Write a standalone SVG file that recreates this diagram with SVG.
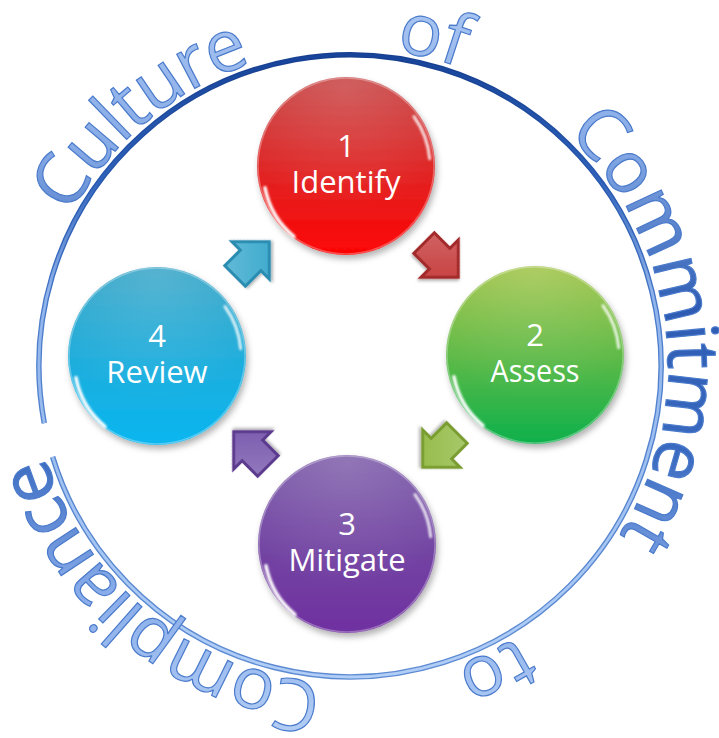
<svg xmlns="http://www.w3.org/2000/svg" xmlns:xlink="http://www.w3.org/1999/xlink" width="719" height="738" viewBox="0 0 719 738">
  <style>
    .lbl { font-family: "Open Sans", "Liberation Sans", sans-serif; font-size: 31px; fill: #ffffff; text-anchor: middle; }
    .ring-txt { font-family: "Open Sans", "Liberation Sans", sans-serif; font-size: 72px; fill: url(#txtGrad); stroke: #4a7acb; stroke-width: 1.2; }
  </style>
  <defs>
    <linearGradient id="txtGrad" gradientUnits="userSpaceOnUse" x1="0" y1="0" x2="0" y2="738">
      <stop offset="0" stop-color="#aac6f2"/>
      <stop offset="0.2" stop-color="#86aae6"/>
      <stop offset="0.42" stop-color="#2d5cb2"/>
      <stop offset="0.62" stop-color="#3b6bc0"/>
      <stop offset="0.8" stop-color="#88acea"/>
      <stop offset="1" stop-color="#b4cff5"/>
    </linearGradient>
    <linearGradient id="ringOuter" gradientUnits="userSpaceOnUse" x1="0" y1="55" x2="0" y2="677">
      <stop offset="0" stop-color="#173f8f"/>
      <stop offset="0.25" stop-color="#2a5cb4"/>
      <stop offset="0.45" stop-color="#4f7fcc"/>
      <stop offset="1" stop-color="#5d8ad2"/>
    </linearGradient>
    <linearGradient id="ringInner" gradientUnits="userSpaceOnUse" x1="0" y1="55" x2="0" y2="677">
      <stop offset="0" stop-color="#17449a"/>
      <stop offset="0.2" stop-color="#2f62ba"/>
      <stop offset="0.38" stop-color="#8fb4ec"/>
      <stop offset="1" stop-color="#b0cef6"/>
    </linearGradient>
    <linearGradient id="gRed" x1="0" y1="0" x2="0" y2="1">
      <stop offset="0" stop-color="#c64242"/>
      <stop offset="0.45" stop-color="#dc2a2a"/>
      <stop offset="1" stop-color="#fd0404"/>
    </linearGradient>
    <linearGradient id="gGreen" x1="0" y1="0" x2="0" y2="1">
      <stop offset="0" stop-color="#a0c344"/>
      <stop offset="0.5" stop-color="#5fba46"/>
      <stop offset="1" stop-color="#0db04c"/>
    </linearGradient>
    <linearGradient id="gPurple" x1="0" y1="0" x2="0" y2="1">
      <stop offset="0" stop-color="#7c5ca9"/>
      <stop offset="0.5" stop-color="#7346a3"/>
      <stop offset="1" stop-color="#7030a0"/>
    </linearGradient>
    <linearGradient id="gBlue" x1="0" y1="0" x2="0" y2="1">
      <stop offset="0" stop-color="#36a4c6"/>
      <stop offset="0.5" stop-color="#20addb"/>
      <stop offset="1" stop-color="#08b6f0"/>
    </linearGradient>
    <radialGradient id="sheen" cx="0.5" cy="0.05" r="0.7">
      <stop offset="0" stop-color="#ffffff" stop-opacity="0.16"/>
      <stop offset="1" stop-color="#ffffff" stop-opacity="0"/>
    </radialGradient>
    <linearGradient id="bevelSheen" x1="0" y1="0" x2="1" y2="1">
      <stop offset="0" stop-color="#ffffff" stop-opacity="0.22"/>
      <stop offset="1" stop-color="#ffffff" stop-opacity="0"/>
    </linearGradient>
    <filter id="sh" x="-20%" y="-20%" width="140%" height="150%">
      <feDropShadow dx="2" dy="4" stdDeviation="3" flood-color="#000" flood-opacity="0.3"/>
    </filter>
    <filter id="ash" x="-30%" y="-30%" width="160%" height="160%">
      <feDropShadow dx="1" dy="2" stdDeviation="1.5" flood-color="#000" flood-opacity="0.3"/>
    </filter>
    <filter id="soft" x="-20%" y="-20%" width="140%" height="140%">
      <feGaussianBlur stdDeviation="0.9"/>
    </filter>
    <g id="gloss">
      <circle r="89" fill="url(#sheen)"/>
      <circle r="88" fill="none" stroke="#ffffff" stroke-opacity="0.3" stroke-width="1.5"/>
      <path d="M -52.1 70.6 A 84 84 0 0 1 -81.1 21.7" fill="none" stroke="#ffffff" stroke-width="3.5" stroke-linecap="round" filter="url(#soft)"/>
      <path d="M 68 -49.4 A 84 84 0 0 1 83.7 -7.3" fill="none" stroke="#ffffff" stroke-width="3" stroke-linecap="round" opacity="0.85" filter="url(#soft)"/>
    </g>
    <path id="arrOut" d="M-24,-16 H-2 V-30 L28,0 L-2,30 V16 H-24 Z"/>
    <path id="arrIn" d="M-21,-13 H1 V-22.8 L23.8,0 L1,22.8 V13 H-21 Z"/>
    <path id="txtCircle" d="M 32 366 A 318 318 0 1 1 668 366 A 318 318 0 1 1 32 366"/>
  </defs>

  <g id="ring">
    <path d="M 44.3 423.2 A 311 311 0 1 1 52.6 456.9" fill="none" stroke="url(#ringOuter)" stroke-width="5.5"/>
    <path d="M 44.3 423.2 A 311 311 0 1 1 52.6 456.9" fill="none" stroke="url(#ringInner)" stroke-width="2.8"/>
  </g>

  <g id="ring-text">
    <text class="ring-txt"><textPath href="#txtCircle" startOffset="158" textLength="242">Culture</textPath></text>
    <text class="ring-txt"><textPath href="#txtCircle" startOffset="545" textLength="67">of</textPath></text>
    <text class="ring-txt"><textPath href="#txtCircle" startOffset="738" textLength="440">Commitment</textPath></text>
    <text class="ring-txt"><textPath href="#txtCircle" startOffset="1321" textLength="70">to</textPath></text>
    <text class="ring-txt"><textPath href="#txtCircle" startOffset="1526" textLength="380">Compliance</textPath></text>
  </g>

  <g id="connectors">
    <g id="arrow-1-2" transform="translate(440,259) rotate(45)" filter="url(#ash)">
      <use href="#arrOut" fill="#a32a2a"/>
      <use href="#arrIn" fill="#c53a3a"/>
      <use href="#arrIn" fill="url(#bevelSheen)"/>
    </g>
    <g id="arrow-2-3" transform="translate(441,449) rotate(135)" filter="url(#ash)">
      <use href="#arrOut" fill="#7a9d30"/>
      <use href="#arrIn" fill="#92ba44"/>
      <use href="#arrIn" fill="url(#bevelSheen)"/>
    </g>
    <g id="arrow-3-4" transform="translate(252,450) rotate(225)" filter="url(#ash)">
      <use href="#arrOut" fill="#5c3a8e"/>
      <use href="#arrIn" fill="#7656ac"/>
      <use href="#arrIn" fill="url(#bevelSheen)"/>
    </g>
    <g id="arrow-4-1" transform="translate(251,260) rotate(-45)" filter="url(#ash)">
      <use href="#arrOut" fill="#2a8cb0"/>
      <use href="#arrIn" fill="#38a8cc"/>
      <use href="#arrIn" fill="url(#bevelSheen)"/>
    </g>
  </g>

  <g id="node-identify" transform="translate(346,166)">
    <circle r="89" fill="url(#gRed)" filter="url(#sh)"/>
    <use href="#gloss"/>
    <text class="lbl" y="-9">1</text>
    <text class="lbl" y="27">Identify</text>
  </g>
  <g id="node-assess" transform="translate(535,355)">
    <circle r="89" fill="url(#gGreen)" filter="url(#sh)"/>
    <use href="#gloss"/>
    <text class="lbl" y="-9">2</text>
    <text class="lbl" y="27" textLength="89" lengthAdjust="spacingAndGlyphs">Assess</text>
  </g>
  <g id="node-mitigate" transform="translate(347,544)">
    <circle r="89" fill="url(#gPurple)" filter="url(#sh)"/>
    <use href="#gloss"/>
    <text class="lbl" y="-9">3</text>
    <text class="lbl" y="27">Mitigate</text>
  </g>
  <g id="node-review" transform="translate(157,356)">
    <circle r="89" fill="url(#gBlue)" filter="url(#sh)"/>
    <use href="#gloss"/>
    <text class="lbl" y="-9">4</text>
    <text class="lbl" y="27">Review</text>
  </g>
</svg>
